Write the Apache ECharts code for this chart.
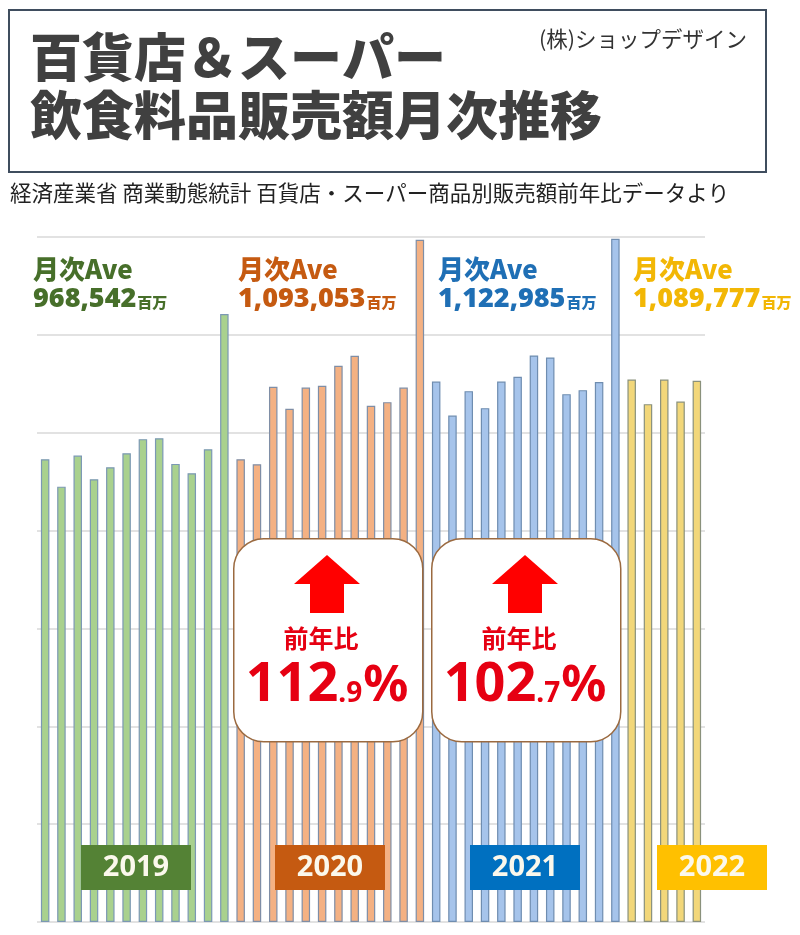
<!DOCTYPE html>
<html><head><meta charset="utf-8">
<script src="https://cdn.jsdelivr.net/npm/echarts@6/dist/echarts.min.js"></script>
<style>html,body{margin:0;padding:0;background:#fff}#c{width:800px;height:935px}</style>
</head><body><div id="c"></div>
<script>
// ---- data (百万円) ----
const years = ['2019', '2020', '2021', '2022'];
const monthLabels = ['1月','2月','3月','4月','5月','6月','7月','8月','9月','10月','11月','12月'];
const sales2019 = [945900, 889800, 953200, 905000, 929500, 958100, 986800, 988800, 936300, 917200, 966300, 1242500];
const sales2020 = [945900, 935600, 1093800, 1048800, 1092300, 1095800, 1136700, 1157200, 1054900, 1062500, 1092300, 1394500];
const sales2021 = [1104600, 1035100, 1085000, 1050200, 1104600, 1114200, 1157800, 1153700, 1078800, 1087000, 1103400, 1396500];
const sales2022 = [1108700, 1058400, 1108700, 1063700, 1106000];
const aveValues = ['968,542', '1,093,053', '1,122,985', '1,089,777'];
const yoyInt = ['112', '102'];
const yoyDec = ['.9', '.7'];
const yTicks = [0, 200000, 400000, 600000, 800000, 1000000, 1200000, 1400000];

// ---- styles ----
const barFill = ['#a9d18e', '#f4b183', '#a6c4eb', '#f2d77a'];
const barBorder = ['#7b98b4', '#7f8ea6', '#6f8db0', '#8a917c'];
const textColor = ['#476f2a', '#c55a11', '#1f6fb5', '#f2b705'];
const boxColor = ['#548235', '#c55a11', '#0070c0', '#ffc000'];

const salesByYear = [sales2019, sales2020, sales2021, sales2022];
const categories = [];
const barData = [];
salesByYear.forEach((arr, yi) => {
  arr.forEach((v, mi) => {
    categories.push(years[yi] + '/' + monthLabels[mi]);
    barData.push({ value: v, itemStyle: { color: barFill[yi], borderColor: barBorder[yi], borderWidth: 1.2 } });
  });
});

const chart = echarts.init(document.getElementById('c'), null, { renderer: 'canvas' });
const JP = '"Noto Sans CJK JP", "Noto Sans", sans-serif';
const NUM = '"Noto Sans", "Noto Sans CJK JP", sans-serif';

const graphics = [];
// title box
graphics.push({ type: 'rect', left: 8, top: 9, shape: { width: 757, height: 162 }, style: { fill: '#fff', stroke: '#3f4d5e', lineWidth: 2 }, z: 1 });
graphics.push({ type: 'text', left: 30, top: 31, style: { text: '百貨店＆スーパー', font: '900 52px ' + JP, fill: '#404040' }, z: 2 });
graphics.push({ type: 'text', left: 30, top: 89, style: { text: '飲食料品販売額月次推移', font: '900 52px ' + JP, fill: '#404040' }, z: 2 });
graphics.push({ type: 'text', left: 539, top: 28, style: { text: '(株)ショップデザイン', font: '21.5px ' + JP, fill: '#333' }, z: 2 });
graphics.push({ type: 'text', left: 10, top: 182, style: { text: '経済産業省 商業動態統計 百貨店・スーパー商品別販売額前年比データより', font: '21.5px ' + JP, fill: '#222' }, z: 2 });

// monthly averages
const aveX = [33, 238, 438, 633];
aveValues.forEach((v, i) => {
  graphics.push({ type: 'text', left: aveX[i], top: 256, style: { text: '月次Ave', font: '900 26px ' + JP, fill: textColor[i] }, z: 5 });
  graphics.push({ type: 'text', left: aveX[i], top: 286, style: {
    text: '{n|' + v + '}{u|百万}', fill: textColor[i],
    rich: { n: { font: '900 27px ' + NUM, fill: textColor[i] }, u: { font: '900 15px ' + JP, fill: textColor[i], padding: [6, 0, 0, 1] } }
  }, z: 5 });
});

// year boxes
const yearBoxX = [81, 275, 470, 657];
years.forEach((y, i) => {
  graphics.push({ type: 'rect', left: yearBoxX[i], top: 845, shape: { width: 110, height: 45 }, style: { fill: boxColor[i] }, z: 5 });
  graphics.push({ type: 'text', x: yearBoxX[i] + 55, y: 868, style: { text: y, font: 'bold 29px ' + NUM, fill: '#fbf8ec', align: 'center', verticalAlign: 'middle' }, z: 6 });
});

// YoY callouts
const calloutX = [233, 431];
yoyInt.forEach((t, i) => {
  const x0 = calloutX[i], cx = x0 + 94;
  graphics.push({ type: 'rect', left: x0, top: 538, shape: { width: 189, height: 203, r: 30 }, style: { fill: '#fff', stroke: '#9b6a40', lineWidth: 1.5 }, z: 5 });
  graphics.push({ type: 'polygon', shape: { points: [[cx, 555], [cx + 33, 584], [cx + 17, 584], [cx + 17, 613], [cx - 17, 613], [cx - 17, 584], [cx - 33, 584]] }, style: { fill: '#ff0000' }, z: 6 });
  graphics.push({ type: 'text', x: cx - 6, y: 638, style: { text: '前年比', font: 'bold 25px ' + JP, fill: '#e60012', align: 'center', verticalAlign: 'middle' }, z: 6 });
  graphics.push({ type: 'text', x: cx, y: 686, style: {
    text: '{a|' + t + '}{b|' + yoyDec[i] + '}{c|%}', align: 'center', verticalAlign: 'middle',
    rich: { a: { font: 'bold 54px ' + NUM, fill: '#e60012' }, b: { font: 'bold 28px ' + NUM, fill: '#e60012', padding: [16, 1, 0, 0] }, c: { font: 'bold 50px ' + NUM, fill: '#e60012', padding: [2, 0, 0, 0] } }
  }, z: 6 });
});

chart.setOption({
  animation: false,
  backgroundColor: '#fff',
  grid: { left: 37, right: 95, top: 237, bottom: 13, containLabel: false },
  xAxis: { type: 'category', data: categories, axisLine: { show: false }, axisTick: { show: false }, axisLabel: { show: false } },
  yAxis: { type: 'value', min: yTicks[0], max: yTicks[yTicks.length - 1], interval: yTicks[1] - yTicks[0],
    axisLabel: { show: false }, axisLine: { show: false }, axisTick: { show: false },
    splitLine: { lineStyle: { color: '#d9d9d9', width: 1.5 } } },
  series: [{ type: 'bar', data: barData, barWidth: 8.5, z: 2 }],
  graphic: graphics
});
</script></body></html>
